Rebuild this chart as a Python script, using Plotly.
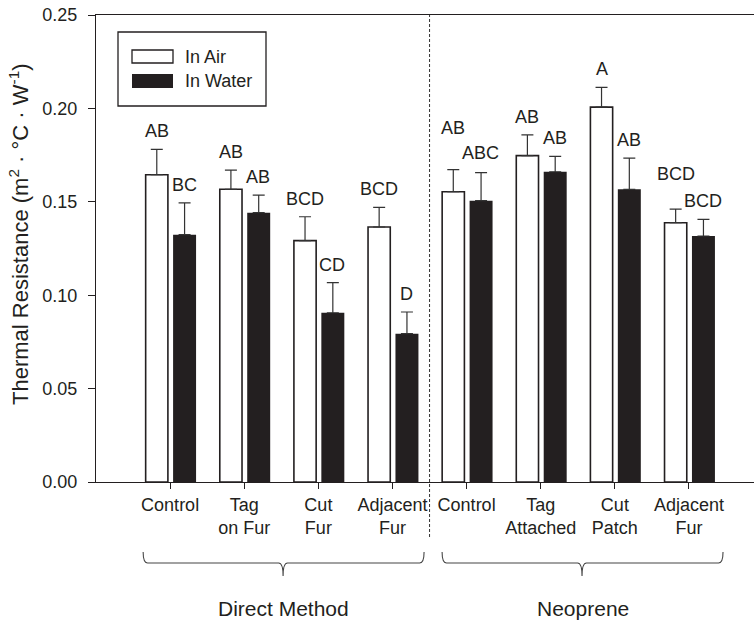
import plotly.graph_objects as go

# ---------------- data ----------------
tick_labels = ["Control", "Tag<br>on Fur", "Cut<br>Fur", "Adjacent<br>Fur",
               "Control", "Tag<br>Attached", "Cut<br>Patch", "Adjacent<br>Fur"]
groups = ["Direct Method", "Neoprene"]
in_air = [0.1645, 0.1567, 0.1292, 0.1365, 0.1554, 0.1747, 0.2007, 0.1388]
in_air_err = [0.0136, 0.0103, 0.0128, 0.0105, 0.0118, 0.0111, 0.0106, 0.0073]
in_water = [0.1324, 0.1442, 0.0906, 0.0794, 0.1506, 0.1661, 0.1567, 0.1317]
in_water_err = [0.0170, 0.0094, 0.0161, 0.0116, 0.0150, 0.0082, 0.0167, 0.0089]
air_letters = ["AB", "AB", "BCD", "BCD", "AB", "AB", "A", "BCD"]
water_letters = ["BC", "AB", "CD", "D", "ABC", "AB", "AB", "BCD"]

# ---------------- layout geometry ----------------
W, H = 754, 621
L, R, T, B = 96, 0, 15, 139
PW, PH = W - L - R, H - T - B
X_MAX = 8.877
INK = "#231f20"
FONT = "Liberation Sans, Arial, sans-serif"

def px2x(px):
    return (px - L) / PW

def py2y(py):
    return (H - B - py) / PH

xpos = list(range(1, len(tick_labels) + 1))
BW = 0.30
AIR_OFF, WATER_OFF = -0.33, 0.04

fig = go.Figure()
fig.add_trace(go.Bar(
    x=xpos, y=in_air, width=BW, offset=AIR_OFF, name="In Air",
    marker=dict(color="white", line=dict(color=INK, width=1.6)),
    error_y=dict(type="data", array=in_air_err, symmetric=False,
                 arrayminus=[0] * len(in_air), color="#333", thickness=1.2, width=6),
    showlegend=False))
fig.add_trace(go.Bar(
    x=xpos, y=in_water, width=BW + 0.01, offset=WATER_OFF, name="In Water",
    marker=dict(color=INK, line=dict(color=INK, width=0)),
    error_y=dict(type="data", array=in_water_err, symmetric=False,
                 arrayminus=[0] * len(in_water), color="#333", thickness=1.2, width=6),
    showlegend=False))

# significance letters
air_shift = [18, 18, 18, 18, 42, 18, 18, 35]
water_shift = [18, 18, 18, 18, 20, 18, 18, 18]
for i, x in enumerate(xpos):
    fig.add_annotation(x=x + AIR_OFF + BW / 2, y=in_air[i] + in_air_err[i],
                       text=air_letters[i], showarrow=False, yanchor="middle",
                       yshift=air_shift[i], font=dict(size=18, color=INK, family=FONT))
    fig.add_annotation(x=x + WATER_OFF + BW / 2, y=in_water[i] + in_water_err[i],
                       text=water_letters[i], showarrow=False, yanchor="middle",
                       yshift=water_shift[i], font=dict(size=18, color=INK, family=FONT))

shapes = []
# dashed separator
shapes.append(dict(type="line", xref="x", yref="paper", x0=4.5, x1=4.5,
                   y0=py2y(537), y1=1, line=dict(color="#333", width=1, dash="3px,2px")))

# braces
def brace(x0, x1, xc):
    y_top, y_mid, y_bot = py2y(552), py2y(563), py2y(576)
    d = 0.06
    path = (f"M {x0},{y_top} Q {x0},{y_mid} {x0 + d},{y_mid} "
            f"L {xc - d},{y_mid} Q {xc},{y_mid} {xc},{y_bot} "
            f"Q {xc},{y_mid} {xc + d},{y_mid} "
            f"L {x1 - d},{y_mid} Q {x1},{y_mid} {x1},{y_top}")
    return dict(type="path", xref="x", yref="paper", path=path,
                line=dict(color="#444", width=1.1))

shapes.append(brace(0.636, 4.426, 2.524))
shapes.append(brace(4.669, 8.459, 6.557))

for gx, g in zip([2.524, 6.57], groups):
    fig.add_annotation(x=gx, xref="x", y=py2y(608), yref="paper", text=g,
                       showarrow=False, yanchor="middle",
                       font=dict(size=21, color=INK, family=FONT))

# legend (drawn)
shapes.append(dict(type="rect", xref="paper", yref="paper",
                   x0=px2x(118), x1=px2x(266), y0=py2y(106), y1=py2y(32),
                   line=dict(color=INK, width=1.3), fillcolor="white"))
shapes.append(dict(type="rect", xref="paper", yref="paper",
                   x0=px2x(132), x1=px2x(173), y0=py2y(63), y1=py2y(50),
                   line=dict(color=INK, width=1.3), fillcolor="white"))
shapes.append(dict(type="rect", xref="paper", yref="paper",
                   x0=px2x(132), x1=px2x(173), y0=py2y(88), y1=py2y(74),
                   line=dict(color=INK, width=0), fillcolor=INK))
for ty, tt in [(57, "In Air"), (81, "In Water")]:
    fig.add_annotation(x=px2x(183), xref="paper", y=py2y(ty), yref="paper", text=tt,
                       showarrow=False, xanchor="left", yanchor="middle",
                       font=dict(size=18, color=INK, family=FONT))

# y-axis title
fig.add_annotation(x=px2x(19), xref="paper", y=py2y(234), yref="paper",
                   text="Thermal Resistance (m<sup>2</sup> · °C · W<sup>-1</sup>)",
                   textangle=-90, showarrow=False, xanchor="center", yanchor="middle",
                   font=dict(size=22, color=INK, family=FONT))

fig.update_layout(
    width=W, height=H, margin=dict(l=L, r=R, t=T, b=B, autoexpand=False),
    plot_bgcolor="white", paper_bgcolor="white", barmode="overlay",
    font=dict(family=FONT, color=INK, size=18),
    shapes=shapes, showlegend=False,
)
fig.update_xaxes(range=[0, X_MAX], tickvals=xpos, ticktext=tick_labels,
                 showline=True, linecolor=INK, linewidth=1.3, mirror=True,
                 ticks="outside", ticklen=6, tickcolor=INK, tickwidth=1.2,
                 showgrid=False, zeroline=False,
                 tickfont=dict(size=18, color=INK, family=FONT))
fig.update_yaxes(range=[0, 0.25], tickvals=[0, 0.05, 0.10, 0.15, 0.20, 0.25],
                 tickformat=".2f", showline=True, linecolor=INK, linewidth=1.3,
                 ticks="outside", ticklen=7, tickcolor=INK, tickwidth=1.2,
                 ticklabelstandoff=7,
                 showgrid=False, zeroline=False,
                 tickfont=dict(size=18, color=INK, family=FONT))

fig.write_html("out.html",
               config={"displayModeBar": False},
               post_script="document.body.style.margin='0';"
                           "document.body.style.overflow='hidden';")
